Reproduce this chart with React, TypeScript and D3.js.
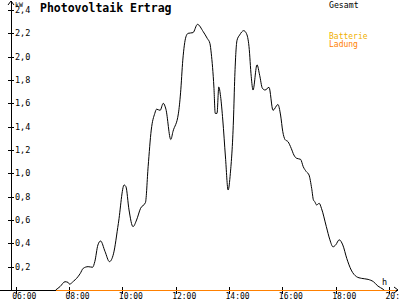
import React from "react";
import * as d3 from "d3";

const times = [
  "07:30","07:40","07:51","07:58","08:01","08:10","08:17","08:25","08:32","08:43",
  "08:53","08:58","09:05","09:11","09:21","09:31","09:40","09:51","10:04","10:08",
  "10:15","10:24","10:32","10:41","10:52","10:58","11:05","11:13","11:17","11:25",
  "11:32","11:38","11:49","11:54","12:06","12:11","12:16","12:23","12:28","12:39",
  "12:49","13:02","13:11","13:17","13:20","13:26","13:29","13:33","13:37","13:41",
  "13:46","13:52","13:58","14:03","14:10","14:13","14:18","14:24","14:33","14:39",
  "14:45","14:50","14:54","15:03","15:09","15:15","15:21","15:30","15:39","15:50",
  "15:56","16:01","16:06","16:13","16:20","16:26","16:32","16:41","16:47","16:54",
  "17:00","17:06","17:10","17:13","17:17","17:23","17:28","17:39","17:47","17:54",
  "18:00","18:08","18:16","18:25","18:35","18:47","18:58","19:13","19:25","19:35",
  "19:47","19:49"
];
const gesamt = [
  0,0.03,0.071,0.065,0.05,0.075,0.1,0.14,0.186,0.2,
  0.195,0.243,0.386,0.42,0.33,0.243,0.31,0.57,0.9,0.886,
  0.686,0.543,0.6,0.7,0.75,1.057,1.371,1.514,1.55,1.54,
  1.6,1.55,1.29,1.36,1.51,1.69,1.97,2.17,2.2,2.206,
  2.277,2.214,2.157,2.114,2.03,1.74,1.514,1.514,1.74,1.66,
  1.457,1.14,0.857,1.0,1.457,1.83,2.14,2.186,2.223,2.2,
  2.086,1.83,1.714,1.93,1.84,1.73,1.714,1.737,1.54,1.59,
  1.5,1.357,1.29,1.27,1.214,1.157,1.129,1.12,1.057,1.014,
  0.986,0.871,0.771,0.757,0.729,0.743,0.7,0.543,0.43,0.37,
  0.386,0.43,0.386,0.27,0.171,0.114,0.1,0.091,0.071,0.034,
  0.006,0
];
const ladungTimes = ["07:30", "20:15"];
const ladung = [0, 0];
const batterie = [0, 0];

const xTicks = ["06:00","08:00","10:00","12:00","14:00","16:00","18:00","20:00"];
const yTicks = [0.2,0.4,0.6,0.8,1.0,1.2,1.4,1.6,1.8,2.0,2.2,2.4];

const toH = (s: string) => {
  const [h, m] = s.split(":").map(Number);
  return h + m / 60;
};

export default function App() {
  const x = d3.scaleLinear().domain([6, 20]).range([15.7, 389]);
  const y = d3.scaleLinear().domain([0, 2.4]).range([290, 10]);
  const axisX = 11;
  const axisY = y(0);
  const font = "'DejaVu Sans Mono', monospace";

  const line = d3
    .line<[number, number]>()
    .x((d) => x(d[0]))
    .y((d) => y(d[1]))
    .curve(d3.curveMonotoneX);

  const gPts: [number, number][] = times.map((t, i) => [toH(t), gesamt[i]]);
  const bPts: [number, number][] = ladungTimes.map((t, i) => [toH(t), batterie[i]]);
  const lPts: [number, number][] = ladungTimes.map((t, i) => [toH(t), ladung[i]]);

  return (
    <svg
      width={400}
      height={300}
      style={{ position: "absolute", left: 0, top: 0, background: "#fff" }}
    >
      {/* y axis */}
      <line x1={axisX} y1={1} x2={axisX} y2={axisY + 1} stroke="#000" shapeRendering="crispEdges" />
      <polyline points={`${axisX - 3},5 ${axisX},1 ${axisX + 3},5`} fill="none" stroke="#000" strokeWidth={1} />
      <text x={15} y={6.5} fontFamily={font} fontSize={6.5} fill="#000">kW</text>
      {yTicks.map((v) => (
        <g key={v}>
          <line x1={axisX - 3} x2={axisX + 3} y1={Math.round(y(v)) + 0.5} y2={Math.round(y(v)) + 0.5} stroke="#000" shapeRendering="crispEdges" />
          <text x={15} y={y(v) + 3} fontFamily={font} fontSize={8.5} fill="#000">
            {d3.format(".1f")(v).replace(".", ",")}
          </text>
        </g>
      ))}
      {/* x axis */}
      <line x1={0} x2={398} y1={axisY + 0.5} y2={axisY + 0.5} stroke="#000" shapeRendering="crispEdges" />
      <polyline points={`394,${axisY - 3} 398,${axisY} 394,${axisY + 3}`} fill="none" stroke="#000" strokeWidth={1} />
      <text x={382} y={285} fontFamily={font} fontSize={8.5} fill="#000">h</text>
      {xTicks.map((t) => (
        <g key={t}>
          <line x1={Math.round(x(toH(t))) + 0.5} x2={Math.round(x(toH(t))) + 0.5} y1={axisY - 3} y2={axisY + 4} stroke="#000" shapeRendering="crispEdges" />
          <text x={x(toH(t)) - 3.5} y={299} fontFamily={font} fontSize={8} fill="#000">{t}</text>
        </g>
      ))}
      {/* series */}
      <path d={line(bPts) || ""} fill="none" stroke="#F0B000" strokeWidth={1} shapeRendering="crispEdges" transform="translate(0,0.5)" />
      <path d={line(lPts) || ""} fill="none" stroke="#FF8000" strokeWidth={1.2} shapeRendering="crispEdges" transform="translate(0,0.5)" />
      <path d={line(gPts) || ""} fill="none" stroke="#000" strokeWidth={1} />
      {/* title & legend */}
      <text x={40} y={12} fontFamily={font} fontSize={11.5} fontWeight="bold" fill="#000">Photovoltaik Ertrag</text>
      <text x={329} y={7.5} fontFamily={font} fontSize={8.2} fill="#000">Gesamt</text>
      <text x={329} y={38.5} fontFamily={font} fontSize={8} fill="#F0B000">Batterie</text>
      <text x={329} y={46.8} fontFamily={font} fontSize={8} fill="#FF8000">Ladung</text>
    </svg>
  );
}
